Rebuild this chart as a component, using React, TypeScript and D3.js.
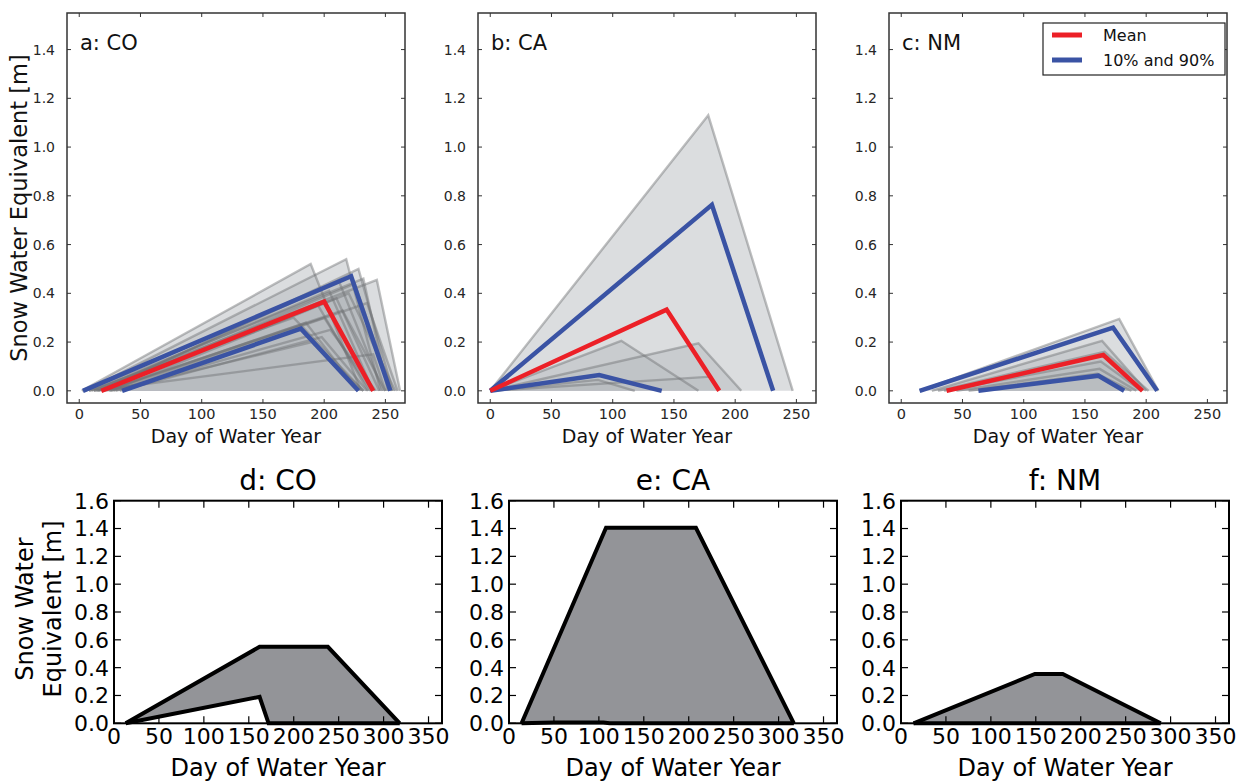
import React from 'react';
import * as d3 from 'd3';

// ---- data (day of water year, SWE in m) ----
const topXTicks = [0, 50, 100, 150, 200, 250];
const topYTicks = [0, 0.2, 0.4, 0.6, 0.8, 1.0, 1.2, 1.4];
const bottomXTicks = [0, 50, 100, 150, 200, 250, 300, 350];
const bottomYTicks = [0, 0.2, 0.4, 0.6, 0.8, 1.0, 1.2, 1.4, 1.6];

// individual years, CO
const coStart = [2, 5, 8, 10, 12, 14, 15, 18, 20, 22, 24, 26, 28, 30, 33, 8, 16, 20, 25, 12];
const coPeakDay = [189, 218, 232, 243, 204, 195, 210, 225, 200, 215, 185, 220, 205, 235, 198, 175, 212, 228, 190, 240];
const coPeakSwe = [0.52, 0.54, 0.46, 0.455, 0.41, 0.35, 0.38, 0.44, 0.3, 0.33, 0.28, 0.4, 0.25, 0.36, 0.22, 0.3, 0.45, 0.5, 0.2, 0.15];
const coEnd = [230, 246, 252, 262, 240, 236, 245, 255, 238, 250, 228, 258, 242, 260, 235, 232, 248, 256, 232, 250];

// individual years, CA
const caStart = [0, 0, 0, 0, 0];
const caPeakDay = [178, 107, 170, 180, 88];
const caPeakSwe = [1.13, 0.205, 0.195, 0.058, 0.045];
const caEnd = [247, 170, 205, 186, 118];

// individual years, NM
const nmStart = [15, 25, 35, 45, 55, 30];
const nmPeakDay = [178, 164, 163, 162, 160, 166];
const nmPeakSwe = [0.295, 0.205, 0.12, 0.09, 0.07, 0.16];
const nmEnd = [210, 200, 196, 192, 188, 202];

const coMean = [[18, 0], [200, 0.366], [240, 0]];
const coP90 = [[3, 0], [222, 0.47], [254, 0]];
const coP10 = [[35, 0], [181, 0.255], [228, 0]];

const caMean = [[0, 0], [144, 0.333], [187, 0]];
const caP90 = [[0, 0], [181, 0.763], [231, 0]];
const caP10 = [[0, 0], [89, 0.065], [140, 0]];

const nmMean = [[37, 0], [165, 0.147], [197, 0]];
const nmP90 = [[15, 0], [173, 0.259], [209, 0]];
const nmP10 = [[63, 0], [161, 0.062], [182, 0]];

const coUpper = [[13, 0], [162, 0.55], [238, 0.55], [318, 0]];
const coLower = [[13, 0], [162, 0.19], [172, 0], [318, 0]];
const caUpper = [[14, 0], [108, 1.405], [208, 1.405], [317, 0]];
const caLower = [[14, 0], [50, 0.005], [105, 0.005], [112, 0], [317, 0]];
const nmUpper = [[14, 0], [149, 0.355], [180, 0.355], [289, 0]];
const nmLower = [[14, 0], [289, 0]];

const legendLabels = ['Mean', '10% and 90%'];

const FONT = "'DejaVu Sans', sans-serif";
const RED = '#ec2027';
const BLUE = '#3a53a4';

type Pt = number[];

const line = (x: any, y: any) =>
  d3.line<Pt>().x((d) => x(d[0])).y((d) => y(d[1]));

function TopPanel(props: any) {
  const { left, label, start, peakDay, peakSwe, end, mean, p10, p90, yLabel, legend } = props;
  const top = 13, height = 390, width = 338;
  const x = d3.scaleLinear().domain([-10, 266]).range([left, left + width]);
  const y = d3.scaleLinear().domain([-0.05, 1.55]).range([top + height, top]);
  const ln = line(x, y);
  const tri = start.map((s: number, i: number) => [[s, 0], [peakDay[i], peakSwe[i]], [end[i], 0]]);
  const ink = '#262626';
  return (
    <g>
      {tri.map((t: Pt[], i: number) => (
        <path key={'f' + i} d={ln(t) + 'Z'} fill="#b8bbc0" fillOpacity={0.5} stroke="none" />
      ))}
      {tri.map((t: Pt[], i: number) => (
        <path key={'l' + i} d={ln(t) || ''} fill="none" stroke="#6f7074" strokeOpacity={0.45} strokeWidth={2.4} />
      ))}
      <path d={ln(p90) || ''} fill="none" stroke={BLUE} strokeWidth={4.5} />
      <path d={ln(p10) || ''} fill="none" stroke={BLUE} strokeWidth={4.5} />
      <path d={ln(mean) || ''} fill="none" stroke={RED} strokeWidth={4.5} />
      <rect x={left} y={top} width={width} height={height} fill="none" stroke="#333" strokeWidth={1.5} />
      {topXTicks.map((t) => (
        <g key={'x' + t}>
          <line x1={x(t)} x2={x(t)} y1={top + height} y2={top + height - 4} stroke="#333" />
          <line x1={x(t)} x2={x(t)} y1={top} y2={top + 4} stroke="#333" />
          <text x={x(t)} y={top + height + 16} textAnchor="middle" fontSize={14.5} fill={ink} fontFamily={FONT}>{t}</text>
        </g>
      ))}
      {topYTicks.map((t) => (
        <g key={'y' + t}>
          <line x1={left} x2={left + 4} y1={y(t)} y2={y(t)} stroke="#333" />
          <line x1={left + width} x2={left + width - 4} y1={y(t)} y2={y(t)} stroke="#333" />
          <text x={left - 12} y={y(t)} dy="0.36em" textAnchor="end" fontSize={14} fill={ink} fontFamily={FONT}>{t.toFixed(1)}</text>
        </g>
      ))}
      <text x={left + 13} y={50} fontSize={21} fill="#111" fontFamily={FONT}>{label}</text>
      <text x={left + width / 2} y={443} textAnchor="middle" fontSize={19} fill="#111" fontFamily={FONT}>Day of Water Year</text>
      {yLabel && (
        <text transform={`translate(27,${top + height / 2}) rotate(-90)`} textAnchor="middle" fontSize={22.5} fill="#111" fontFamily={FONT}>
          Snow Water Equivalent [m]
        </text>
      )}
      {legend && (
        <g>
          <rect x={1043} y={23} width={182} height={52} fill="#fff" stroke="#222" strokeWidth={1.2} />
          {legendLabels.map((l, i) => (
            <g key={l}>
              <line x1={1052} x2={1082} y1={35 + i * 25} y2={35 + i * 25} stroke={i === 0 ? RED : BLUE} strokeWidth={5} />
              <text x={1103} y={35 + i * 25} dy="0.36em" fontSize={16} fill="#111" fontFamily={FONT}>{l}</text>
            </g>
          ))}
        </g>
      )}
    </g>
  );
}

function BottomPanel(props: any) {
  const { left, title, upper, lower, yLabel } = props;
  const top = 500.7, height = 222.6, width = 328;
  const x = d3.scaleLinear().domain([0, 365]).range([left, left + width]);
  const y = d3.scaleLinear().domain([0, 1.6]).range([top + height, top]);
  const ln = line(x, y);
  const poly = upper.concat(lower.slice().reverse());
  return (
    <g>
      <path d={ln(poly) + 'Z'} fill="#939498" stroke="none" />
      <path d={ln(upper) || ''} fill="none" stroke="#000" strokeWidth={4} strokeLinejoin="miter" />
      <path d={ln(lower) || ''} fill="none" stroke="#000" strokeWidth={4} />
      <rect x={left} y={top} width={width} height={height} fill="none" stroke="#000" strokeWidth={2} />
      {bottomXTicks.map((t) => (
        <g key={'x' + t}>
          <line x1={x(t)} x2={x(t)} y1={top + height} y2={top + height - 7} stroke="#000" strokeWidth={1.2} />
          <line x1={x(t)} x2={x(t)} y1={top} y2={top + 7} stroke="#000" strokeWidth={1.2} />
          <text x={x(t)} y={top + height + 21} textAnchor="middle" fontSize={22} fill="#000" fontFamily={FONT}>{t}</text>
        </g>
      ))}
      {bottomYTicks.map((t) => (
        <g key={'y' + t}>
          <line x1={left} x2={left + 7} y1={y(t)} y2={y(t)} stroke="#000" strokeWidth={1.2} />
          <line x1={left + width} x2={left + width - 7} y1={y(t)} y2={y(t)} stroke="#000" strokeWidth={1.2} />
          <text x={left - 5} y={y(t)} dy="0.36em" textAnchor="end" fontSize={22} fill="#000" fontFamily={FONT}>{t.toFixed(1)}</text>
        </g>
      ))}
      <text x={left + width / 2} y={490} textAnchor="middle" fontSize={28} fill="#000" fontFamily={FONT}>{title}</text>
      <text x={left + width / 2} y={776} textAnchor="middle" fontSize={24} fill="#000" fontFamily={FONT}>Day of Water Year</text>
      {yLabel && (
        <g fontSize={24} fill="#000" fontFamily={FONT} textAnchor="middle">
          <text transform={`translate(33,609) rotate(-90)`}>Snow Water</text>
          <text transform={`translate(61,609) rotate(-90)`}>Equivalent [m]</text>
        </g>
      )}
    </g>
  );
}

export default function App() {
  return (
    <svg width={1237} height={782} style={{ position: 'absolute', left: 0, top: 0, background: '#fff' }}>
      <rect width={1237} height={782} fill="#fff" />
      <TopPanel left={67} label="a: CO" start={coStart} peakDay={coPeakDay} peakSwe={coPeakSwe} end={coEnd}
        mean={coMean} p10={coP10} p90={coP90} yLabel />
      <TopPanel left={478} label="b: CA" start={caStart} peakDay={caPeakDay} peakSwe={caPeakSwe} end={caEnd}
        mean={caMean} p10={caP10} p90={caP90} />
      <TopPanel left={889} label="c: NM" start={nmStart} peakDay={nmPeakDay} peakSwe={nmPeakSwe} end={nmEnd}
        mean={nmMean} p10={nmP10} p90={nmP90} legend />
      <BottomPanel left={114} title="d: CO" upper={coUpper} lower={coLower} yLabel />
      <BottomPanel left={509} title="e: CA" upper={caUpper} lower={caLower} />
      <BottomPanel left={901} title="f: NM" upper={nmUpper} lower={nmLower} />
    </svg>
  );
}
